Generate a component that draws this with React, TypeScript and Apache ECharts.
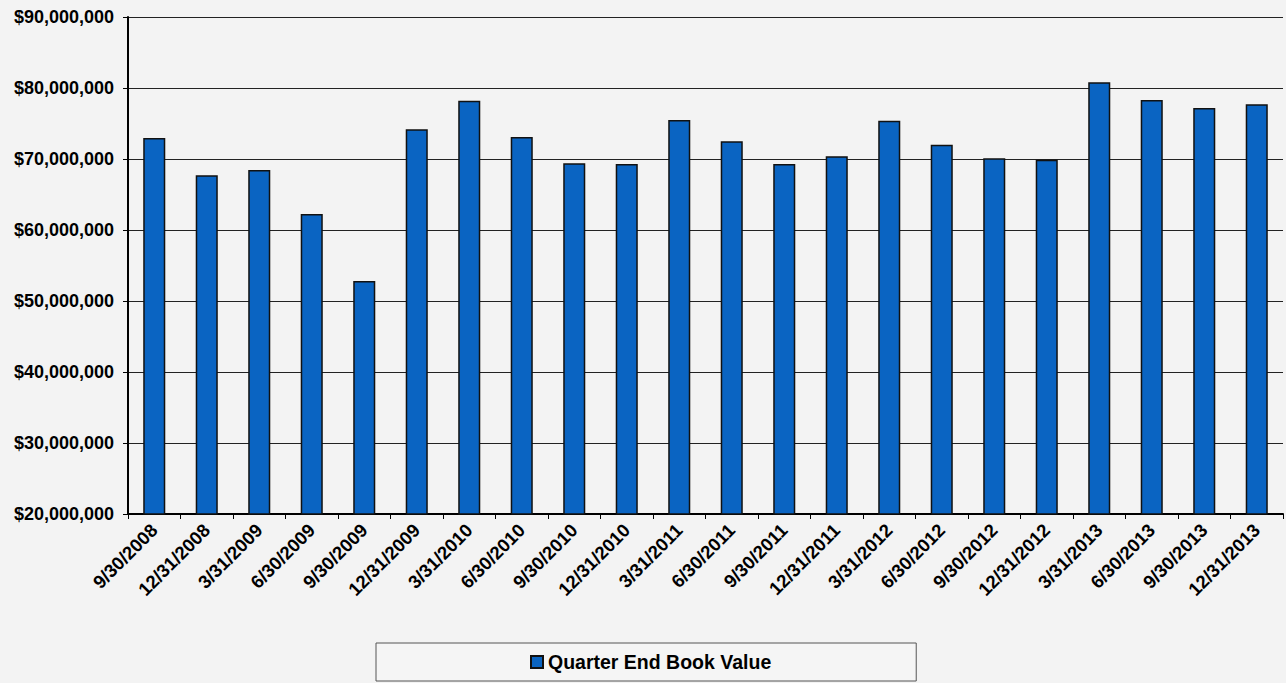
import React, { useEffect, useRef } from "react";
import * as echarts from "echarts";

const categories = [
  "9/30/2008", "12/31/2008", "3/31/2009", "6/30/2009", "9/30/2009", "12/31/2009",
  "3/31/2010", "6/30/2010", "9/30/2010", "12/31/2010", "3/31/2011", "6/30/2011",
  "9/30/2011", "12/31/2011", "3/31/2012", "6/30/2012", "9/30/2012", "12/31/2012",
  "3/31/2013", "6/30/2013", "9/30/2013", "12/31/2013",
];

const bookValues = [
  72950000, 67700000, 68450000, 62250000, 52800000, 74200000,
  78200000, 73100000, 69400000, 69300000, 75500000, 72500000,
  69300000, 70400000, 75400000, 72000000, 70100000, 69900000,
  80800000, 78300000, 77200000, 77700000,
];

const seriesName = "Quarter End Book Value";

function fmt(v: number): string {
  return "$" + v.toString().replace(/\B(?=(\d{3})+(?!\d))/g, ",");
}

export default function App() {
  const ref = useRef<HTMLDivElement>(null);
  useEffect(() => {
    if (!ref.current) return;
    const chart = echarts.init(ref.current, undefined, { renderer: "svg" });
    chart.setOption({
      animation: false,
      backgroundColor: "#f3f3f3",
      textStyle: { fontFamily: "Liberation Sans, Arial, sans-serif" },
      grid: { left: 128, right: 3, top: 17, bottom: 169, containLabel: false },
      legend: {
        data: [{ name: seriesName, icon: "rect" }],
        left: 376,
        top: 643,
        itemWidth: 12,
        itemHeight: 12,
        itemGap: 3,
        padding: [9, 145, 9, 154],
        borderColor: "#555",
        borderWidth: 1,
        backgroundColor: "#f5f5f5",
        textStyle: { fontWeight: "bold", fontSize: 19.5, color: "#000", padding: [0, 0, 0, 0] },
      },
      xAxis: {
        type: "category",
        data: categories,
        axisLine: { lineStyle: { color: "#000", width: 2 } },
        axisTick: { show: true, alignWithLabel: false, length: 5, lineStyle: { color: "#000" } },
        axisLabel: {
          rotate: 45,
          fontWeight: "bold",
          fontSize: 18.5,
          color: "#000",
          interval: 0,
          margin: 13,
        },
      },
      yAxis: {
        type: "value",
        min: 20000000,
        max: 90000000,
        interval: 10000000,
        axisLine: { show: true, lineStyle: { color: "#000", width: 2 } },
        axisTick: { show: true, length: 5, lineStyle: { color: "#000" } },
        axisLabel: {
          formatter: (v: number) => fmt(v),
          fontWeight: "bold",
          fontSize: 18,
          color: "#000",
          margin: 14,
        },
        splitLine: { show: true, lineStyle: { color: "#222", width: 1 } },
      },
      series: [
        {
          name: seriesName,
          type: "bar",
          data: bookValues,
          barWidth: "42%",
          itemStyle: { color: "#0a64c2", borderColor: "#111", borderWidth: 1.5 },
        },
      ],
    });
    return () => chart.dispose();
  }, []);
  return (
    <div
      ref={ref}
      style={{ position: "fixed", left: 0, top: 0, width: 1286, height: 683 }}
    />
  );
}
